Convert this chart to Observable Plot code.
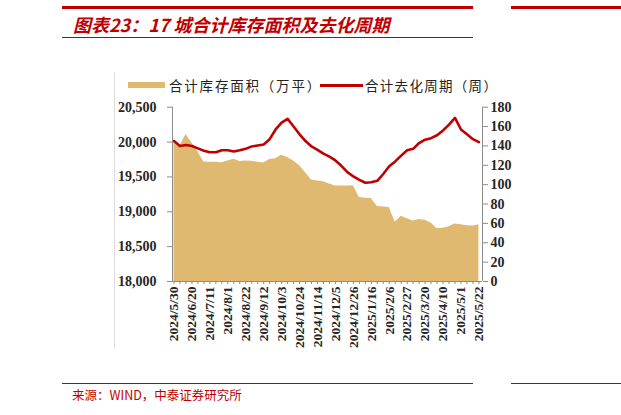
<!DOCTYPE html>
<html><head><meta charset="utf-8">
<script src="https://cdn.jsdelivr.net/npm/d3@7"></script>
<script src="https://cdn.jsdelivr.net/npm/@observablehq/plot@0.6"></script>
<style>
body{margin:0;width:621px;height:415px;position:relative;background:#fff;overflow:hidden;font-family:"Noto Sans CJK SC",sans-serif;}
.abs{position:absolute;}
.red{background:#c00000;}
</style></head><body>
<div class="abs red" style="left:62px;top:6px;width:411px;height:3px;"></div>
<div class="abs red" style="left:511px;top:6px;width:110px;height:3px;"></div>
<div class="abs" style="left:73px;top:11px;font-size:18px;font-weight:bold;font-style:italic;color:#c00000;line-height:26px;white-space:nowrap;">图表23：17 城合计库存面积及去化周期</div>
<div class="abs red" style="left:62px;top:37px;width:411px;height:1px;"></div>
<div class="abs" style="left:114px;top:72px;width:1px;height:277px;background:#dcdcdc;"></div>
<div class="abs" id="legend" style="left:0;top:76px;height:18px;width:621px;font-size:13.5px;color:#222;line-height:18px;white-space:nowrap;">
  <div class="abs" style="left:128px;top:6px;width:37px;height:6px;background:#DFB970;"></div>
  <div class="abs" id="lg1" style="left:169px;top:0;letter-spacing:1.8px;"></div>
  <div class="abs" style="left:320px;top:7.5px;width:43px;height:3px;background:#C00000;"></div>
  <div class="abs" id="lg2" style="left:365px;top:0;letter-spacing:1.3px;"></div>
</div>
<div class="abs" id="chart" style="left:0;top:95px;"></div>
<div class="abs red" style="left:62px;top:383px;width:411px;height:1px;"></div>
<div class="abs red" style="left:511px;top:383px;width:110px;height:1px;"></div>
<div class="abs" style="left:72px;top:386px;font-size:12.5px;color:#c00000;line-height:18px;white-space:nowrap;">来源：WIND，中泰证券研究所</div>
<script>
const dates = ["2024/5/30","2024/6/6","2024/6/13","2024/6/20","2024/6/27","2024/7/4","2024/7/11","2024/7/18","2024/7/25","2024/8/1","2024/8/8","2024/8/15","2024/8/22","2024/8/29","2024/9/5","2024/9/12","2024/9/19","2024/9/26","2024/10/3","2024/10/10","2024/10/17","2024/10/24","2024/10/31","2024/11/7","2024/11/14","2024/11/21","2024/11/28","2024/12/5","2024/12/12","2024/12/19","2024/12/26","2025/1/2","2025/1/9","2025/1/16","2025/1/23","2025/1/30","2025/2/6","2025/2/13","2025/2/20","2025/2/27","2025/3/6","2025/3/13","2025/3/20","2025/3/27","2025/4/3","2025/4/10","2025/4/17","2025/4/24","2025/5/1","2025/5/8","2025/5/15","2025/5/22"];
const inventory = [20020,19940,20110,19985,19860,19715,19712,19710,19705,19730,19752,19720,19730,19725,19710,19700,19750,19760,19810,19780,19730,19665,19560,19455,19440,19430,19400,19370,19368,19368,19375,19205,19195,19190,19075,19068,19062,18850,18935,18900,18868,18890,18880,18840,18755,18765,18785,18825,18815,18800,18795,18815];
const cycle = [145,140,141,140,137.5,135,133.5,133.5,135.5,135.5,134.3,135.5,137,139.5,140.5,141.5,147,157,164,168,160,152,145,139.5,136,132,129,125,119.5,113,108.5,105,102,102.5,104,111,119,124,130,135.5,137,143,146.5,148,151,156,162,169,157,152,147,144];
const leftTicks = [18000,18500,19000,19500,20000,20500];
const rightTicks = [0,20,40,60,80,100,120,140,160,180];
const legendLabels = ["合计库存面积（万平）","合计去化周期（周）"];

document.getElementById("lg1").textContent = legendLabels[0];
document.getElementById("lg2").textContent = legendLabels[1];

const yMin = leftTicks[0], yMax = leftTicks[leftTicks.length-1];
const rMax = rightTicks[rightTicks.length-1];
const toLeft = v => yMin + v*(yMax-yMin)/rMax;
const fromLeft = d => Math.round((d-yMin)*rMax/(yMax-yMin));
const data = dates.map((d,i)=>({i, date:d, inv:inventory[i], cyc:toLeft(cycle[i])}));
const xDom = [-0.25, dates.length - 0.4];
const axisColor = "#8c8c8c";
const textColor = "#262626";

const chart = Plot.plot({
  width: 621, height: 260,
  marginTop: 11.7, marginBottom: 74, marginLeft: 172, marginRight: 139,
  x: {domain: xDom, axis: null, label: null},
  y: {domain: [yMin, yMax], axis: null, label: null},
  style: {fontFamily: "'Liberation Serif','Times New Roman',serif", fontWeight: "bold", fontSize: "14px", background: "transparent", overflow: "visible"},
  marks: [
    Plot.areaY(data, {x: "i", y1: yMin, y2: "inv", fill: "#DFB970", curve: "linear"}),
    Plot.lineY(data, {x: "i", y: "cyc", stroke: "#C00000", strokeWidth: 2.6, strokeLinejoin: "round"}),
    Plot.ruleX([xDom[0]], {stroke: axisColor}),
    Plot.ruleX([xDom[1]], {stroke: axisColor}),
    Plot.ruleY([yMin], {stroke: axisColor}),
    Plot.axisY({anchor: "left", label: null, ticks: leftTicks, tickFormat: d3.format(","), tickSize: 5, tickPadding: 11, stroke: axisColor, fill: textColor, fontSize: 14}),
    Plot.axisY({anchor: "right", label: null, ticks: rightTicks.map(toLeft), tickFormat: fromLeft, tickSize: 5, tickPadding: 3, stroke: axisColor, fill: textColor, fontSize: 14}),
    Plot.axisX({label: null, ticks: data.map(d=>d.i), tickFormat: i => i % 3 === 0 ? dates[i] : "", tickRotate: -90, tickSize: 3, tickPadding: 2, stroke: axisColor, fill: textColor, fontSize: 13.5})
  ]
});
document.getElementById("chart").appendChild(chart);
</script>
</body></html>
